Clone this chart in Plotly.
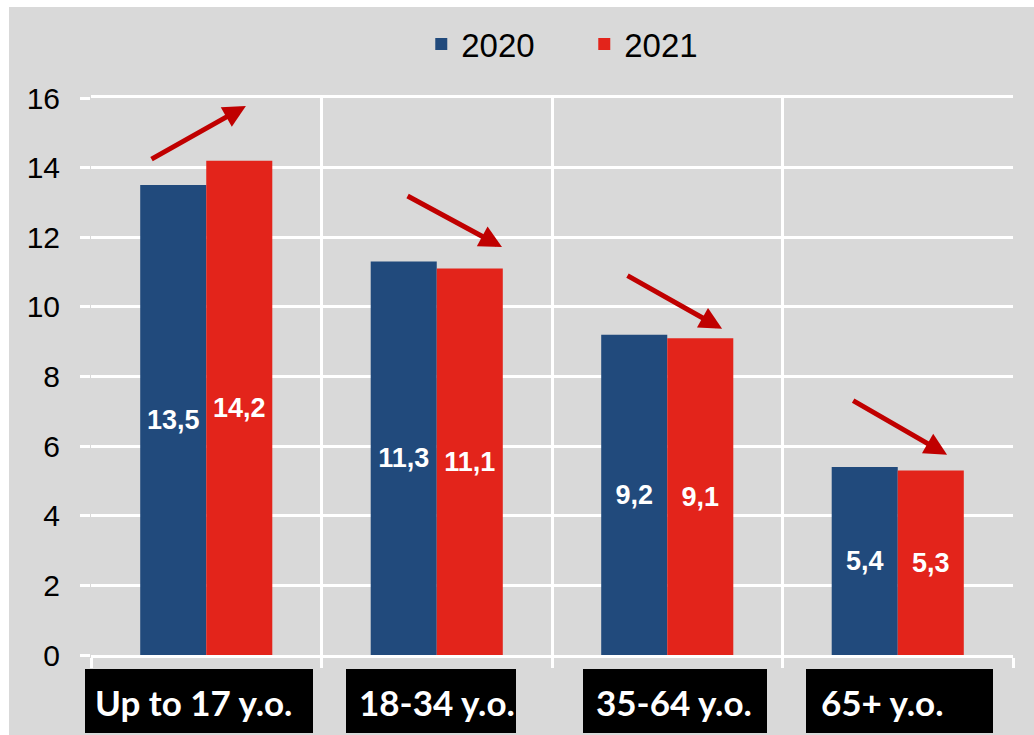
import plotly.graph_objects as go

categories = ["Up to 17 y.o.", "18-34 y.o.", "35-64 y.o.", "65+ y.o."]
values_2020 = [13.5, 11.3, 9.2, 5.4]
values_2021 = [14.2, 11.1, 9.1, 5.3]
y_ticks = [0, 2, 4, 6, 8, 10, 12, 14, 16]

BLUE = "#214a7c"
RED = "#e3241b"
BG = "#d9d9d9"
SANS = "Liberation Sans, Arial, sans-serif"

fig = go.Figure()
for name, vals, col in [("2020", values_2020, BLUE), ("2021", values_2021, RED)]:
    fig.add_trace(go.Bar(
        x=categories, y=vals, name=name, marker=dict(color=col, line=dict(width=0)),
        texttemplate="<b>%{y:.1f}</b>", textposition="inside", insidetextanchor="middle",
        constraintext="none", cliponaxis=False,
        textangle=0, textfont=dict(family=SANS, size=27, color="white"),
    ))

L, R, T, B = 91, 21, 98, 80
W, H = 1034, 735
pw, ph = W - L - R, H - T - B

def px2paper(px, py):
    return (px - L) / pw, (H - B - py) / ph

# gray background region
x0, y0 = px2paper(9, 735)
x1, y1 = px2paper(1034, 7)
fig.add_shape(type="rect", xref="paper", yref="paper", x0=x0, y0=y0, x1=x1, y1=y1,
              fillcolor=BG, line=dict(width=0), layer="below")

# category label boxes (pixel extents) and text offsets
box_px = [(85, 313), (346, 516), (583, 767), (806, 993)]
text_shift = [-12.5, 0.5, 6.5, -15.5]
for cat, (bx0, bx1), sh in zip(categories, box_px, text_shift):
    a0, b0 = px2paper(bx0, 733)
    a1, b1 = px2paper(bx1, 669)
    fig.add_shape(type="rect", xref="paper", yref="paper", x0=a0, y0=b0, x1=a1, y1=b1,
                  fillcolor="black", line=dict(width=0), layer="above")
    fig.add_annotation(x=cat, xref="x", y=(H - B - 702) / ph, yref="paper",
                       text=f"<b>{cat}</b>", showarrow=False, xshift=sh,
                       yanchor="middle", xanchor="center",
                       font=dict(family="Lato, Open Sans, sans-serif", size=35, color="white"))

# trend arrows (category index, value)
arrows = [((-0.244, 14.22), (0.172, 15.77)),
          ((0.867, 13.21), (1.283, 11.72)),
          ((1.821, 10.92), (2.238, 9.37)),
          ((2.80, 7.33), (3.214, 5.75))]
for (tx, ty), (hx, hy) in arrows:
    fig.add_annotation(x=hx, y=hy, ax=tx, ay=ty, xref="x", yref="y", axref="x", ayref="y",
                       showarrow=True, arrowhead=2, arrowsize=0.9, arrowwidth=5,
                       arrowcolor="#c00000", text="")

fig.update_layout(
    width=W, height=H, margin=dict(l=L, r=R, t=T, b=B, autoexpand=False),
    paper_bgcolor="white", plot_bgcolor=BG,
    barmode="group", bargap=0.427, bargroupgap=0,
    separators=", ",
    showlegend=True,
    legend=dict(orientation="h", x=0.535, xanchor="center", y=(H - B - 44) / ph, yanchor="middle",
                font=dict(family=SANS, size=33, color="black"), bgcolor="rgba(0,0,0,0)",
                entrywidth=118, itemwidth=30, traceorder="normal"),
    font=dict(family=SANS, color="black"),
)
fig.update_xaxes(type="category", range=[-0.5, 3.5], showticklabels=False, tickson="boundaries",
                 showgrid=True, automargin=False,
                 gridcolor="white", gridwidth=3, ticks="outside", ticklen=10, tickcolor="white",
                 tickwidth=3, showline=True, linecolor="white", linewidth=3, mirror=True,
                 zeroline=False)
fig.update_yaxes(range=[0, 16], tickvals=y_ticks, showgrid=True, gridcolor="white", gridwidth=3,
                 automargin=False,
                 ticks="outside", ticklen=10, tickcolor="white", tickwidth=3,
                 tickfont=dict(family=SANS, size=30, color="black"), ticklabelstandoff=14,
                 zeroline=False, showline=False)

fig.write_html("out.html")
